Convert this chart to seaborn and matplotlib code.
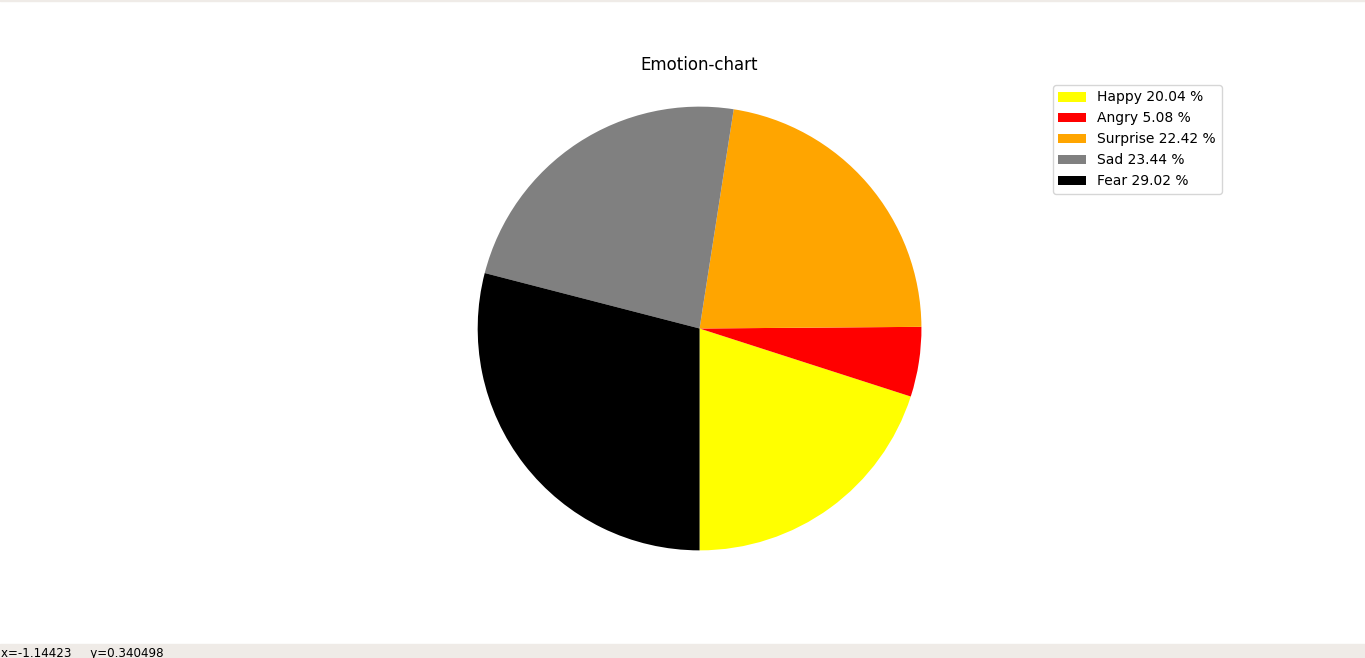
import matplotlib
matplotlib.use("Agg")
import matplotlib.pyplot as plt
import seaborn as sns
from matplotlib.patches import Rectangle

# emotion shares (percent)
emotions = ["Happy", "Angry", "Surprise", "Sad", "Fear"]
shares = [20.04, 5.08, 22.42, 23.44, 29.02]
colours = ["yellow", "red", "orange", "gray", "black"]

sns.set_style("white")
plt.rcParams['font.family'] = ['DejaVu Sans']
plt.rcParams['text.color'] = 'black'

fig = plt.figure(figsize=(13.65, 6.58), dpi=100)

# window chrome: status bar at the bottom, thin line at the top
fig.patches.append(Rectangle((0, 0), 1, 14 / 658, transform=fig.transFigure,
                             color="#efebe7", zorder=0))
fig.patches.append(Rectangle((0, 1 - 1 / 658), 1, 1 / 658, transform=fig.transFigure,
                             color="#efebe7", zorder=0))
fig.text(1 / 1365, -2 / 658, "x=-1.14423     y=0.340498", fontsize=8.6,
         va="bottom", ha="left", color="black")

ax = fig.add_axes([0.125, 1 - 577 / 658, 0.775, 497 / 658])

labels = [f"{e} {s:.2f} %" for e, s in zip(emotions, shares)]
wedges, _ = ax.pie(shares, colors=sns.color_palette(colours), startangle=270,
                   wedgeprops={"linewidth": 0, "edgecolor": "none"})
ax.set_aspect("equal")
ax.set_xlim(-1.12 * 1365 * 0.775 / 497, 1.12 * 1365 * 0.775 / 497)
ax.set_ylim(-1.12, 1.12)
ax.axis("off")
ax.set_title("Emotion-chart", fontsize=12, color="black", y=1 + 2 / 497)
ax.legend(wedges, labels, loc="upper right", bbox_to_anchor=(1, 1 + 2 / 497))

fig.savefig("out.png", dpi=100)
